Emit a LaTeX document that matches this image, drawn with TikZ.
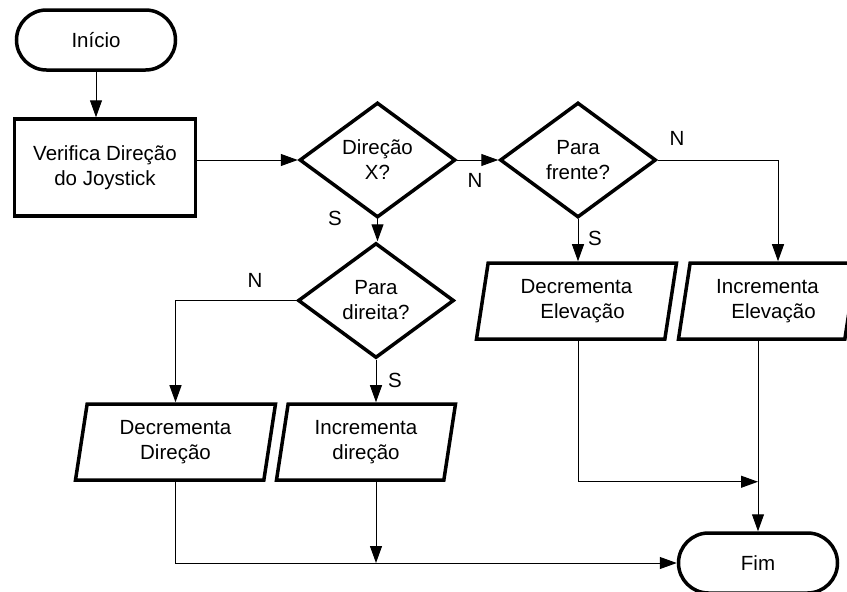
\documentclass[tikz,border=0pt]{standalone}
\usepackage{fontspec}
\setmainfont{Liberation Sans}
\usetikzlibrary{shapes.geometric,shapes.misc,arrows.meta,calc}

\begin{document}
\begin{tikzpicture}[x=1pt,y=-1pt,
  every node/.style={font=\fontsize{20.5}{25}\selectfont},
  shapeline/.style={draw=black, line width=3.5pt, align=center, inner sep=0pt},
  terminal/.style={shapeline, rounded rectangle, minimum width=159pt, minimum height=60pt},
  process/.style={shapeline, rectangle, minimum width=181pt, minimum height=97pt},
  decision/.style={shapeline, diamond, minimum width=156pt, minimum height=115pt},
  io/.style={shapeline, trapezium, trapezium left angle=75, trapezium right angle=105,
    trapezium stretches body, minimum height=76pt, minimum width=#1},
  flow/.style={line width=1pt, -{Triangle[length=17pt,width=12pt]}},
  tag/.style={inner sep=0pt}
]
\useasboundingbox (0,0) rectangle (847,592);

% shapes
\node[terminal] (start) at (96,40) {Início};
\node[process]  (verif) at (105,167.5) {Verifica Direção\\do Joystick};
\node[decision] (d1) at (377.5,160) {Direção\\X?};
\node[decision] (d2) at (578,160) {Para\\frente?};
\node[decision] (d3) at (376,300.5) {Para\\direita?};
\node[io=200pt] (ddir)  at (175.5,442) {Decrementa\\Direção};
\node[io=179pt] (idir)  at (366,442) {Incrementa\\direção};
\node[io=200pt] (delev) at (576.5,301) {Decrementa\\\hspace*{12pt}Elevação};
\node[io=178pt] (ielev) at (767.5,301) {Incrementa\\\hspace*{12pt}Elevação};
\node[terminal] (fim) at (758,563) {Fim};

% branch labels
\node[tag] (n1) at (475,180) {N};
\node[tag] (s1) at (335,218) {S};
\node[tag] (n2) at (677,138) {N};
\node[tag] (s2) at (595,238) {S};
\node[tag] (n3) at (255,280) {N};
\node[tag] (s3) at (395,380) {S};

% connectors
\draw[flow] (start.south) -- (start.south |- verif.north);
\draw[flow] (verif.east |- d1.west) -- (d1.west);
\draw[flow] (d1.east) -- (d2.west);
\draw[flow] (d1.south) -- (d1.south |- d3.north);
\draw[flow] (d2.east) -| ([xshift=10.5pt]ielev.north);
\draw[flow] (d2.south) -- (d2.south |- delev.north);
\draw[flow] (d3.west) -| (ddir.north);
\draw[flow] (d3.south) -- (d3.south |- idir.north);
\draw[flow] (ddir.south) |- (fim.west);
\draw[flow] (d3.south |- idir.south) -- (d3.south |- fim.west);
\draw[flow] (d2.south |- delev.south) |- (fim.north |- idir.south);
\draw[flow] (fim.north |- ielev.south) -- (fim.north);
\end{tikzpicture}
\end{document}
